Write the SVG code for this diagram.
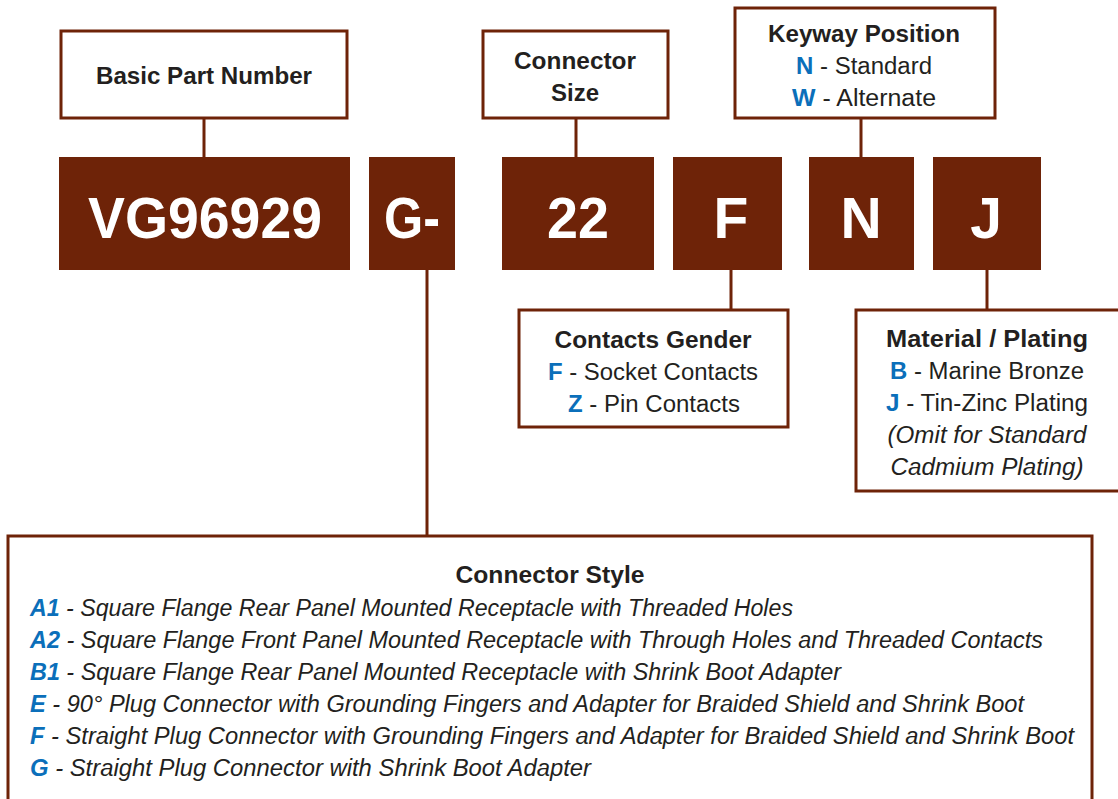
<svg xmlns="http://www.w3.org/2000/svg" width="1118" height="799" viewBox="0 0 1118 799">
<style>
.lbl{fill:#fff;stroke:#6e2308;stroke-width:3}
.seg{fill:#6e2308}
.big{font-family:"Liberation Sans",Arial,sans-serif;font-weight:bold;font-size:57px;fill:#fff;text-anchor:middle}
.t{font-family:"Liberation Sans",Arial,sans-serif;font-size:23.5px;fill:#231f20;text-anchor:middle}
.b{font-weight:bold}
.k{fill:#0b6fba;font-weight:bold}
.i{font-style:italic}
.l{text-anchor:start}
.c{stroke:#6e2308;stroke-width:3;fill:none}
</style>
<rect width="1118" height="799" fill="#fff"/>
<g id="connectors">
<line class="c" x1="204" y1="118" x2="204" y2="157"/>
<line class="c" x1="576" y1="118" x2="576" y2="157"/>
<line class="c" x1="861" y1="118" x2="861" y2="157"/>
<line class="c" x1="731" y1="270" x2="731" y2="309"/>
<line class="c" x1="987" y1="270" x2="987" y2="309"/>
<line class="c" x1="427" y1="270" x2="427" y2="535"/>
</g>
<g id="basic-part-number">
<rect class="lbl" x="61" y="31" width="286" height="87"/>
<text class="t b" x="204" y="84" textLength="216" lengthAdjust="spacingAndGlyphs">Basic Part Number</text>
</g>
<g id="connector-size">
<rect class="lbl" x="483" y="31" width="185" height="87"/>
<text class="t b" x="575" y="69" textLength="122" lengthAdjust="spacingAndGlyphs">Connector</text>
<text class="t b" x="575" y="101" textLength="48" lengthAdjust="spacingAndGlyphs">Size</text>
</g>
<g id="keyway-position">
<rect class="lbl" x="735" y="8" width="260" height="110"/>
<text class="t b" x="864" y="42" textLength="192" lengthAdjust="spacingAndGlyphs">Keyway Position</text>
<text class="t" x="864" y="74" textLength="136" lengthAdjust="spacingAndGlyphs"><tspan class="k">N</tspan> - Standard</text>
<text class="t" x="864" y="106" textLength="144" lengthAdjust="spacingAndGlyphs"><tspan class="k">W</tspan> - Alternate</text>
</g>
<g id="seg-vg96929">
<rect class="seg" x="59" y="157" width="291" height="113"/>
<text class="big" x="205" y="238" textLength="234" lengthAdjust="spacingAndGlyphs">VG96929</text>
</g>
<g id="seg-g">
<rect class="seg" x="369" y="157" width="86" height="113"/>
<text class="big" x="412" y="238" textLength="56" lengthAdjust="spacingAndGlyphs">G-</text>
</g>
<g id="seg-22">
<rect class="seg" x="502" y="157" width="152" height="113"/>
<text class="big" x="578" y="238" textLength="62" lengthAdjust="spacingAndGlyphs">22</text>
</g>
<g id="seg-f">
<rect class="seg" x="673" y="157" width="109" height="113"/>
<text class="big" x="731" y="238">F</text>
</g>
<g id="seg-n">
<rect class="seg" x="809" y="157" width="105" height="113"/>
<text class="big" x="861" y="238">N</text>
</g>
<g id="seg-j">
<rect class="seg" x="933" y="157" width="108" height="113"/>
<text class="big" x="986" y="238">J</text>
</g>
<g id="contacts-gender">
<rect class="lbl" x="519" y="310" width="269" height="117"/>
<text class="t b" x="653" y="348" textLength="197" lengthAdjust="spacingAndGlyphs">Contacts Gender</text>
<text class="t" x="653" y="380" textLength="210" lengthAdjust="spacingAndGlyphs"><tspan class="k">F</tspan> - Socket Contacts</text>
<text class="t" x="654" y="412" textLength="172" lengthAdjust="spacingAndGlyphs"><tspan class="k">Z</tspan> - Pin Contacts</text>
</g>
<g id="material-plating">
<rect class="lbl" x="856" y="310" width="265" height="181"/>
<text class="t b" x="987" y="347" textLength="202" lengthAdjust="spacingAndGlyphs">Material / Plating</text>
<text class="t" x="987" y="379" textLength="194" lengthAdjust="spacingAndGlyphs"><tspan class="k">B</tspan> - Marine Bronze</text>
<text class="t" x="987" y="411" textLength="202" lengthAdjust="spacingAndGlyphs"><tspan class="k">J</tspan> - Tin-Zinc Plating</text>
<text class="t i" x="987" y="443" textLength="199" lengthAdjust="spacingAndGlyphs">(Omit for Standard</text>
<text class="t i" x="987" y="475" textLength="193" lengthAdjust="spacingAndGlyphs">Cadmium Plating)</text>
</g>
<g id="connector-style">
<rect class="lbl" x="8" y="536" width="1084" height="270"/>
<text class="t b" x="550" y="583" textLength="189" lengthAdjust="spacingAndGlyphs">Connector Style</text>
<text class="t i l" x="30" y="616" textLength="763" lengthAdjust="spacingAndGlyphs"><tspan class="k">A1</tspan> - Square Flange Rear Panel Mounted Receptacle with Threaded Holes</text>
<text class="t i l" x="30" y="648" textLength="1013" lengthAdjust="spacingAndGlyphs"><tspan class="k">A2</tspan> - Square Flange Front Panel Mounted Receptacle with Through Holes and Threaded Contacts</text>
<text class="t i l" x="30" y="680" textLength="811" lengthAdjust="spacingAndGlyphs"><tspan class="k">B1</tspan> - Square Flange Rear Panel Mounted Receptacle with Shrink Boot Adapter</text>
<text class="t i l" x="30" y="712" textLength="994" lengthAdjust="spacingAndGlyphs"><tspan class="k">E</tspan> - 90° Plug Connector with Grounding Fingers and Adapter for Braided Shield and Shrink Boot</text>
<text class="t i l" x="30" y="744" textLength="1044" lengthAdjust="spacingAndGlyphs"><tspan class="k">F</tspan> - Straight Plug Connector with Grounding Fingers and Adapter for Braided Shield and Shrink Boot</text>
<text class="t i l" x="30" y="776" textLength="561" lengthAdjust="spacingAndGlyphs"><tspan class="k">G</tspan> - Straight Plug Connector with Shrink Boot Adapter</text>
</g>
</svg>
